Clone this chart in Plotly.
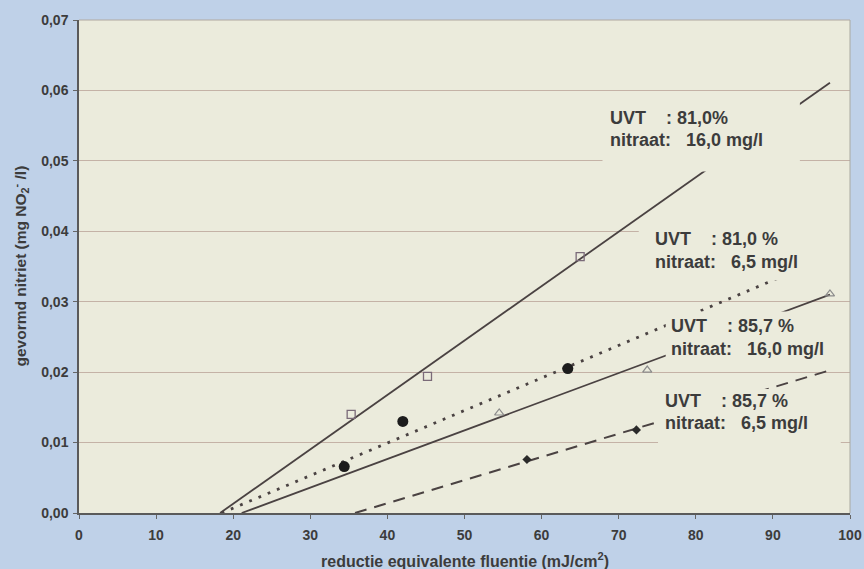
import plotly.graph_objects as go

# ---- data ----
sq_x = [35.3, 45.2, 65.0]          # UVT 81,0 %, nitraat 16,0 mg/l
sq_y = [0.0140, 0.0194, 0.0364]
circ_x = [34.4, 42.0, 63.4]        # UVT 81,0 %, nitraat 6,5 mg/l
circ_y = [0.0066, 0.0130, 0.0205]
tri_x = [54.5, 73.7, 97.4]         # UVT 85,7 %, nitraat 16,0 mg/l
tri_y = [0.0142, 0.0203, 0.0311]
dia_x = [58.1, 72.3]               # UVT 85,7 %, nitraat 6,5 mg/l
dia_y = [0.0076, 0.0118]

# fitted trend lines (start / end points)
fit1_x = [18.3, 97.4]
fit1_y = [0.0, 0.0611]
fit2_x = [18.5, 91.0]
fit2_y = [0.0, 0.0335]
fit3_x = [21.1, 97.4]
fit3_y = [0.0, 0.0310]
fit4_x = [35.8, 97.5]
fit4_y = [0.0, 0.0203]

x_ticks = [0, 10, 20, 30, 40, 50, 60, 70, 80, 90, 100]
y_ticks = [0.00, 0.01, 0.02, 0.03, 0.04, 0.05, 0.06, 0.07]

label_lines = [
    ["UVT\u00a0\u00a0\u00a0\u00a0: 81,0%", "nitraat:\u00a0\u00a0\u00a016,0 mg/l"],
    ["UVT\u00a0\u00a0\u00a0\u00a0: 81,0 %", "nitraat:\u00a0\u00a0\u00a06,5 mg/l"],
    ["UVT\u00a0\u00a0\u00a0\u00a0: 85,7 %", "nitraat:\u00a0\u00a0\u00a016,0 mg/l"],
    ["UVT\u00a0\u00a0\u00a0\u00a0: 85,7 %", "nitraat:\u00a0\u00a0\u00a06,5 mg/l"],
]
x_title = "reductie equivalente fluentie (mJ/cm<sup>2</sup>)"
y_title = "gevormd nitriet (mg NO<sub>2</sub><sup>-</sup> /l)"

PLOT_BG = "#ebebdc"
PAPER_BG = "#bfd1e8"
LINE_C = "#4a4242"
TEXT_C = "#3c3c3c"
FONT = "Liberation Sans, Arial, sans-serif"

fig = go.Figure()

fig.add_trace(go.Scatter(x=fit1_x, y=fit1_y, mode="lines",
                         line=dict(color=LINE_C, width=1.8), hoverinfo="skip"))
fig.add_trace(go.Scatter(x=fit2_x, y=fit2_y, mode="lines",
                         line=dict(color=LINE_C, width=2.8, dash="2.8px,7.2px"), hoverinfo="skip"))
fig.add_trace(go.Scatter(x=fit3_x, y=fit3_y, mode="lines",
                         line=dict(color=LINE_C, width=1.8), hoverinfo="skip"))
fig.add_trace(go.Scatter(x=fit4_x, y=fit4_y, mode="lines",
                         line=dict(color=LINE_C, width=2.0, dash="12px,8px"), hoverinfo="skip"))

fig.add_trace(go.Scatter(x=sq_x, y=sq_y, mode="markers",
                         marker=dict(symbol="square-open", size=8, color="#7a6a78",
                                     line=dict(width=1.3))))
fig.add_trace(go.Scatter(x=circ_x, y=circ_y, mode="markers",
                         marker=dict(symbol="circle", size=11, color="#1c1c1c")))
fig.add_trace(go.Scatter(x=tri_x, y=tri_y, mode="markers",
                         marker=dict(symbol="triangle-up-open", size=8, color="#8c8c8c",
                                     line=dict(width=1.2))))
fig.add_trace(go.Scatter(x=dia_x, y=dia_y, mode="markers",
                         marker=dict(symbol="diamond", size=7, color="#2a2a2a")))

# label boxes (they hide grid and trend lines behind the labels)
boxes = [
    (67.9, 93.5, 0.0485, 0.0590),
    (72.6, 100.0, 0.0330, 0.0408),
    (76.1, 98.8, 0.0220, 0.0286),
    (75.1, 98.8, 0.0093, 0.0176),
]
shapes = []
for x0, x1, y0, y1 in boxes:
    shapes.append(dict(type="rect", xref="x", yref="y", x0=x0, x1=x1, y0=y0, y1=y1,
                       fillcolor=PLOT_BG, line=dict(width=0), layer="above"))
# right / top frame of plot area
shapes.append(dict(type="line", xref="paper", yref="paper", x0=1, x1=1, y0=0, y1=1,
                   line=dict(color="#a9a9a0", width=1)))
shapes.append(dict(type="line", xref="paper", yref="paper", x0=0, x1=1, y0=1, y1=1,
                   line=dict(color="#b0a8a0", width=1)))

label_pos = [
    (68.6, [0.0561, 0.0530]),
    (74.5, [0.0389, 0.0356]),
    (76.5, [0.0266, 0.0233]),
    (75.7, [0.0159, 0.0128]),
]
annotations = []
for (lx, ys), lines in zip(label_pos, label_lines):
    for yy, txt in zip(ys, lines):
        annotations.append(dict(x=lx, y=yy, xref="x", yref="y", text=txt, showarrow=False,
                                xanchor="left", yanchor="middle",
                                font=dict(family=FONT, size=18, color=TEXT_C, weight="bold")))

# axis titles
annotations.append(dict(x=0.5, y=-0.0953, xref="paper", yref="paper", text=x_title,
                        showarrow=False, xanchor="center", yanchor="middle",
                        font=dict(family=FONT, size=16, color=TEXT_C, weight="bold")))
annotations.append(dict(x=-0.0765, y=0.5, xref="paper", yref="paper", text=y_title,
                        showarrow=False, xanchor="center", yanchor="middle", textangle=-90,
                        font=dict(family=FONT, size=15.5, color=TEXT_C, weight="bold")))

tickfont = dict(family=FONT, size=14, color=TEXT_C, weight="bold")

fig.update_layout(
    width=864, height=569,
    margin=dict(l=79, r=14, t=20, b=56),
    paper_bgcolor=PAPER_BG, plot_bgcolor=PLOT_BG,
    showlegend=False,
    separators=",.",
    font=dict(family=FONT, color=TEXT_C),
    shapes=shapes, annotations=annotations,
    xaxis=dict(range=[0, 100], tickvals=x_ticks, ticks="outside", ticklen=4,
               tickcolor="#666", showgrid=False, zeroline=False, automargin=False,
               showline=True, linecolor="#5a5a5a", linewidth=1.5,
               ticklabelstandoff=4, tickfont=tickfont),
    yaxis=dict(range=[0, 0.07], tickvals=y_ticks, tickformat=".2f", ticks="outside",
               ticklen=4, tickcolor="#666", showgrid=True, gridcolor="#c4b2a6",
               gridwidth=1, zeroline=False, automargin=False,
               showline=True, linecolor="#5a5a5a", linewidth=1.5,
               ticklabelstandoff=2, tickfont=tickfont),
)

fig.write_html("out.html", config={"displayModeBar": False},
               post_script="document.body.style.margin='0';")
